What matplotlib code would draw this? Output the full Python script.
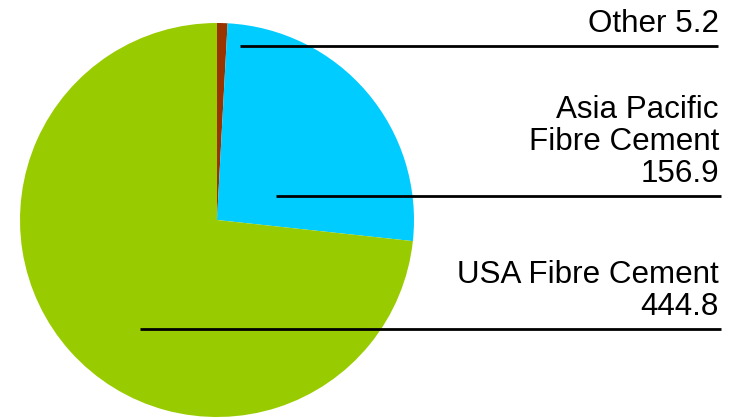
import matplotlib.pyplot as plt

plt.rcParams['font.family'] = ['Liberation Sans', 'DejaVu Sans']

labels = ['Other', 'Asia Pacific\nFibre Cement', 'USA Fibre Cement']
values = [5.2, 156.9, 444.8]
colors = ['#993300', '#00CCFF', '#99CC00']

W, H = 737, 417
fig = plt.figure(figsize=(W / 100, H / 100), dpi=100)
ax = fig.add_axes([0, 0, 1, 1])

# pie in pixel units, y measured from the bottom
cx, cy, r = 217, H - 220, 197
ax.pie(values, colors=colors, startangle=90, counterclock=False,
       center=(cx, cy), radius=r, frame=True,
       wedgeprops=dict(linewidth=0))
ax.set_xlim(0, W)
ax.set_ylim(0, H)
ax.set_aspect('equal')
ax.axis('off')

# leader lines: (start x, end x, y from top) for each slice
leaders = [(240, 718, 46), (276, 721, 196), (140, 721, 329)]
for lab, val, (x0, x1, ytop) in zip(labels, values, leaders):
    y = H - ytop
    ax.plot([x0, x1], [y, y], color='black', lw=2, solid_capstyle='butt')
    if lab == 'Other':
        txt = f'{lab} {val}'
    else:
        txt = f'{lab}\n{val}'
    ax.text(719, y + 7, txt, ha='right', va='bottom', fontsize=22.6,
            linespacing=1.08, color='black', multialignment='right')

fig.savefig('out.png', dpi=100)
